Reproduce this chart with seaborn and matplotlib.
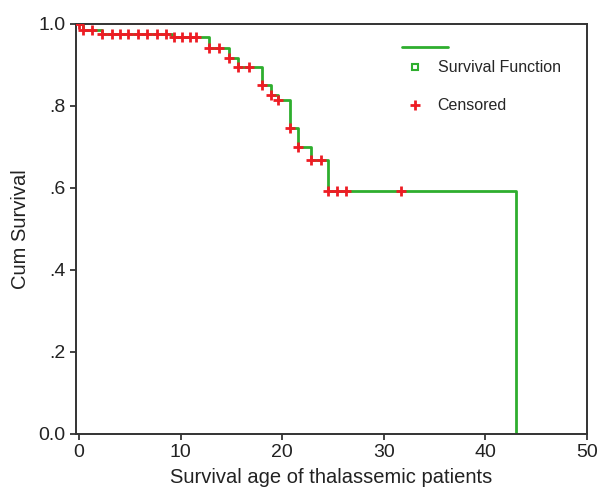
import numpy as np
import pandas as pd
import matplotlib
matplotlib.use("Agg")
import matplotlib.pyplot as plt
from matplotlib.lines import Line2D
import seaborn as sns

# Kaplan-Meier steps (time, survival after the step)
step_times = [0.0, 0.4, 2.3, 9.2, 12.8, 14.8, 15.7, 18.0, 18.9, 19.6, 20.8, 21.6, 22.8, 24.5, 43.0]
step_surv = [1.0, 0.985, 0.976, 0.968, 0.941, 0.917, 0.895, 0.851, 0.827, 0.815, 0.746, 0.70, 0.668, 0.593, 0.0]

# censored observations
censor_times = [0.0, 0.4, 1.3, 2.3, 3.2, 4.0, 4.8, 5.8, 6.7, 7.7, 8.6, 9.4, 10.1,
                10.9, 11.5, 12.8, 13.8, 14.8, 15.7, 16.7, 18.0, 18.9, 19.6,
                20.8, 21.6, 22.8, 23.8, 24.5, 25.4, 26.3, 31.7]

xticks = [0, 10, 20, 30, 40, 50]
yticks = [0.0, 0.2, 0.4, 0.6, 0.8, 1.0]
ytick_labels = ["0.0", ".2", ".4", ".6", ".8", "1.0"]

green = "#2eae2e"
red = "#ee1c24"

sns.set_theme(style="ticks")
plt.rcParams["font.family"] = ["Liberation Sans", "DejaVu Sans"]

km = pd.DataFrame({"time": step_times, "surv": step_surv})
idx = np.searchsorted(step_times, censor_times, side="right") - 1
cens = pd.DataFrame({"time": censor_times, "surv": np.array(step_surv)[idx]})

fig = plt.figure(figsize=(6.03, 4.87), dpi=100)
ax = fig.add_axes([0.126, 0.109, 0.847, 0.842])

sns.lineplot(data=km, x="time", y="surv", ax=ax, color=green, linewidth=2.0,
             drawstyle="steps-post", estimator=None, sort=False)
sns.scatterplot(data=cens, x="time", y="surv", ax=ax, color=red, marker="+",
                s=45, linewidth=2.0, zorder=3)

ax.set_xlim(-0.3, 50)
ax.set_ylim(0, 1.0)
ax.set_xticks(xticks)
ax.set_yticks(yticks)
ax.set_yticklabels(ytick_labels)
ax.tick_params(direction="out", length=4, width=1.2, labelsize=14, colors="#222222")
for s in ax.spines.values():
    s.set_visible(True)
    s.set_linewidth(1.4)
    s.set_color("#333333")

ax.set_xlabel("Survival age of thalassemic patients", fontsize=14.5, color="#222222", labelpad=5)
ax.set_ylabel("Cum Survival", fontsize=14.5, color="#222222", labelpad=6)

# legend: line sample on top, then the two entries
leg1 = ax.legend([Line2D([], [], color=green, linewidth=2)], [""], loc="upper left",
                 bbox_to_anchor=(0.625, 0.975), frameon=False, fontsize=11.5,
                 handlelength=2.9, borderaxespad=0)
ax.add_artist(leg1)
handles = [
    Line2D([], [], color=green, marker="s", markerfacecolor="white", markeredgewidth=1.5,
           markersize=5, linestyle="none"),
    Line2D([], [], color=red, marker="+", markeredgewidth=2, markersize=7, linestyle="none"),
]
ax.legend(handles, ["Survival Function", "Censored"], loc="upper left",
          bbox_to_anchor=(0.627, 0.927), frameon=False, fontsize=11.5,
          handlelength=1.6, labelspacing=1.45, handletextpad=0.6, borderaxespad=0)

fig.savefig("out.png", dpi=100)
